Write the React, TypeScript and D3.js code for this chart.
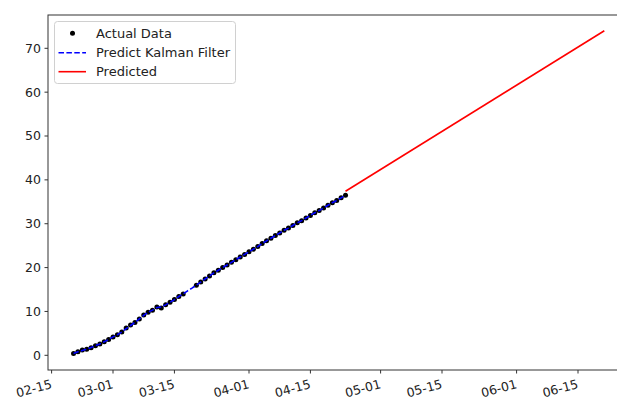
import React from "react";
import * as d3 from "d3";

// ---------- data ----------
const actualDates = [
  "2021-02-20","2021-02-21","2021-02-22","2021-02-23","2021-02-24","2021-02-25","2021-02-26","2021-02-27","2021-02-28",
  "2021-03-01","2021-03-02","2021-03-03","2021-03-04","2021-03-05","2021-03-06","2021-03-07","2021-03-08","2021-03-09",
  "2021-03-10","2021-03-11","2021-03-12","2021-03-13","2021-03-14","2021-03-15","2021-03-16","2021-03-17",
  "2021-03-20","2021-03-21","2021-03-22","2021-03-23","2021-03-24","2021-03-25","2021-03-26","2021-03-27","2021-03-28",
  "2021-03-29","2021-03-30","2021-03-31","2021-04-01","2021-04-02","2021-04-03","2021-04-04","2021-04-05","2021-04-06",
  "2021-04-07","2021-04-08","2021-04-09","2021-04-10","2021-04-11","2021-04-12","2021-04-13","2021-04-14","2021-04-15",
  "2021-04-16","2021-04-17","2021-04-18","2021-04-19","2021-04-20","2021-04-21","2021-04-22","2021-04-23",
];
const actualValues = [
  0.4, 0.8, 1.2, 1.4, 1.7, 2.2, 2.6, 3.1, 3.6,
  4.2, 4.7, 5.3, 6.2, 6.9, 7.5, 8.3, 9.2, 9.8,
  10.3, 11.0, 10.8, 11.5, 12.1, 12.7, 13.4, 14.0,
  16.0, 16.7, 17.4, 18.1, 18.8, 19.4, 20.0, 20.6, 21.2,
  21.8, 22.4, 23.0, 23.6, 24.2, 24.8, 25.5, 26.1, 26.7,
  27.3, 27.9, 28.5, 29.0, 29.6, 30.2, 30.7, 31.3, 31.9,
  32.5, 33.0, 33.6, 34.2, 34.8, 35.3, 35.9, 36.5,
];
const kalmanStart = "2021-02-20";
const kalmanValues = [
  0.4, 0.8, 1.1, 1.4, 1.8, 2.2, 2.6, 3.1, 3.6,
  4.2, 4.7, 5.3, 6.1, 6.8, 7.5, 8.3, 9.1, 9.8,
  10.3, 10.9, 11.0, 11.5, 12.1, 12.7, 13.4, 14.0, 14.7, 15.3,
  16.0, 16.7, 17.4, 18.1, 18.8, 19.4, 20.0, 20.6, 21.2,
  21.8, 22.4, 23.0, 23.6, 24.2, 24.8, 25.5, 26.1, 26.7,
  27.3, 27.9, 28.5, 29.0, 29.6, 30.2, 30.7, 31.3, 31.9,
  32.5, 33.0, 33.6, 34.2, 34.8, 35.3, 35.9, 36.5,
];
const predictedDates = ["2021-04-23", "2021-06-21"];
const predictedValues = [37.4, 74.0];

const xTickDates = ["2021-02-15","2021-03-01","2021-03-15","2021-04-01","2021-04-15","2021-05-01","2021-05-15","2021-06-01","2021-06-15"];
const yTicks = [0, 10, 20, 30, 40, 50, 60, 70];
const legendLabels = ["Actual Data", "Predict Kalman Filter", "Predicted"];

// ---------- layout ----------
const W = 617, H = 400;
const plot = { left: 48, top: 15, right: 631, bottom: 370 };
const FONT = "'DejaVu Sans', sans-serif";

const parse = d3.timeParse("%Y-%m-%d");
const fmt = d3.timeFormat("%m-%d");

export default function App() {
  const x = d3.scaleTime()
    .domain([parse(xTickDates[0])!, parse(xTickDates[xTickDates.length - 1])!])
    .range([51.6, 578]);
  const y = d3.scaleLinear().domain([0, 70]).range([355.3, 48.3]);

  const actual = actualDates.map((d, i) => ({ d: parse(d)!, v: actualValues[i] }));
  const k0 = parse(kalmanStart)!;
  const kalman = kalmanValues.map((v, i) => ({ d: d3.timeDay.offset(k0, i), v }));
  const pred = predictedDates.map((d, i) => ({ d: parse(d)!, v: predictedValues[i] }));

  const line = d3.line<{ d: Date; v: number }>().x(p => x(p.d)).y(p => y(p.v));

  const ink = "#222";
  const spine = "#333";

  return (
    <svg width={W} height={H} style={{ position: "absolute", left: 0, top: 0, background: "#fff" }}
      fontFamily={FONT}>
      <defs>
        <clipPath id="plotclip">
          <rect x={plot.left} y={plot.top} width={plot.right - plot.left} height={plot.bottom - plot.top} />
        </clipPath>
      </defs>
      <rect x={0} y={0} width={W} height={H} fill="#fff" />

      <g clipPath="url(#plotclip)">
        {actual.map((p, i) => (
          <circle key={i} cx={x(p.d)} cy={y(p.v)} r={2.5} fill="#000" />
        ))}
        <path d={line(kalman) || ""} fill="none" stroke="#0000ff" strokeWidth={1.6} strokeDasharray="5.5,2.4" />
        <path d={line(pred) || ""} fill="none" stroke="#ff0000" strokeWidth={1.6} />
      </g>

      {/* spines */}
      <rect x={plot.left} y={plot.top} width={plot.right - plot.left} height={plot.bottom - plot.top}
        fill="none" stroke={spine} strokeWidth={1} />

      {/* y ticks */}
      {yTicks.map(t => (
        <g key={t}>
          <line x1={plot.left - 3.5} x2={plot.left} y1={y(t)} y2={y(t)} stroke={spine} strokeWidth={1} />
          <text x={plot.left - 7} y={y(t)} dy="0.35em" textAnchor="end" fontSize={12.5} fill={ink}>{t}</text>
        </g>
      ))}

      {/* x ticks */}
      {xTickDates.map(s => {
        const d = parse(s)!;
        const px = x(d);
        return (
          <g key={s}>
            <line x1={px} x2={px} y1={plot.bottom} y2={plot.bottom + 3.5} stroke={spine} strokeWidth={1} />
            <text transform={`translate(${px + 1},${plot.bottom + 18}) rotate(-15)`} textAnchor="end"
              fontSize={12.5} fill={ink}>{fmt(d)}</text>
          </g>
        );
      })}

      {/* legend */}
      <g>
        <rect x={54.5} y={21.5} width={181} height={62} rx={3} fill="#fff" fillOpacity={0.8} stroke="#d0d0d0" strokeWidth={1} />
        <circle cx={72.5} cy={33.3} r={2.5} fill="#000" />
        <line x1={58.5} x2={86} y1={52.7} y2={52.7} stroke="#0000ff" strokeWidth={1.6} strokeDasharray="5.5,2.4" />
        <line x1={58.5} x2={86} y1={71.7} y2={71.7} stroke="#ff0000" strokeWidth={1.6} />
        {legendLabels.map((l, i) => (
          <text key={l} x={96} y={[33.3, 52.7, 71.7][i]} dy="0.35em" fontSize={13} fill={ink}>{l}</text>
        ))}
      </g>
    </svg>
  );
}
